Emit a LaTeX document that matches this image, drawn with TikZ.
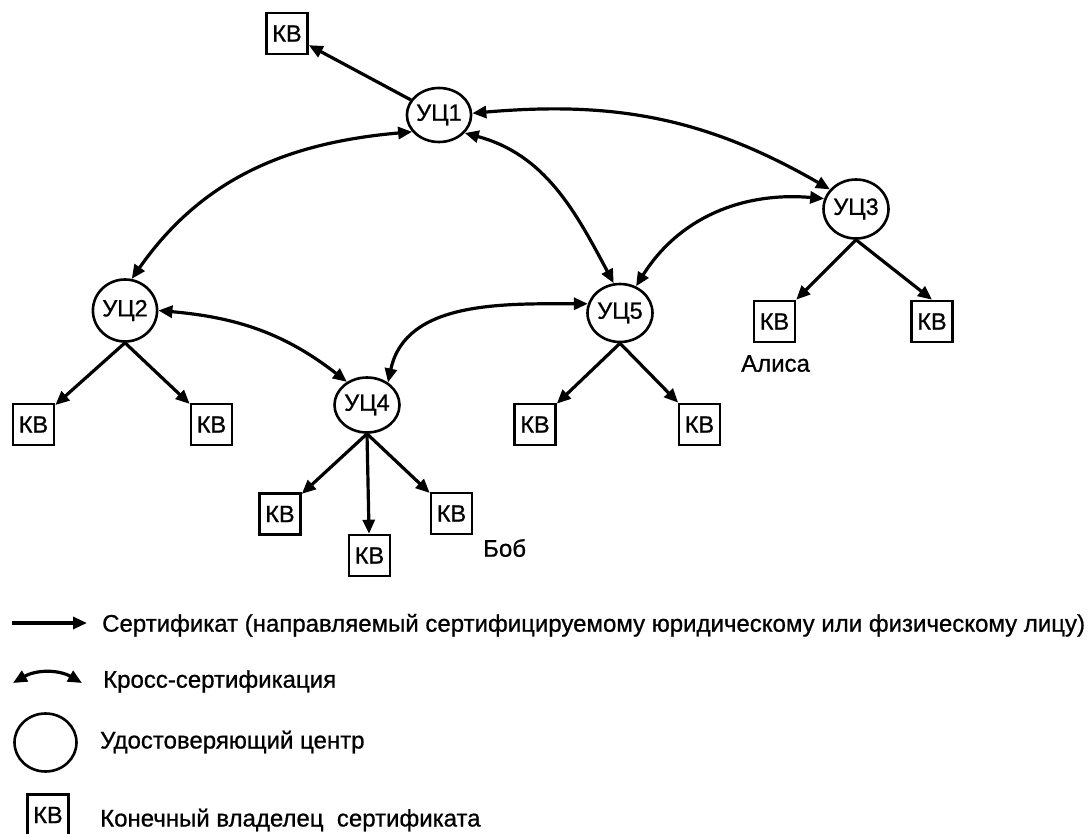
\documentclass[tikz,border=0pt]{standalone}
\usepackage{fontspec}
\setmainfont{Liberation Sans}[FakeBold=0.8]
\usetikzlibrary{arrows.meta,shapes.geometric}
\begin{document}
\begin{tikzpicture}[x=1pt,y=1pt,
  >={Triangle[length=14pt,width=12pt]},
  ca/.style={draw,ellipse,line width=2.6pt,inner sep=0pt,minimum width=64pt,minimum height=57pt,font=\fontsize{23.5}{28}\selectfont},
  kb/.style={draw,rectangle,line width=2.6pt,inner sep=0pt,minimum size=41pt,font=\fontsize{23.5}{28}\selectfont},
  lbl/.style={anchor=base west,inner sep=0pt,font=\fontsize{24}{29}\selectfont},
  cert/.style={line width=3.2pt,->},
  cross/.style={line width=3.2pt,<->}]
\fill[white] (0,0) rectangle (1092,-834);
\useasboundingbox (0,0) rectangle (1092,-834);
% CA nodes
\node[ca,minimum height=54pt] (U1) at (439,-115) {УЦ1};
\node[ca,minimum height=62pt,minimum width=62pt] (U2) at (125,-310.5) {УЦ2};
\node[ca,minimum width=65pt,minimum height=59pt] (U3) at (856,-209) {УЦ3};
\node[ca,minimum width=65pt,minimum height=55pt] (U4) at (367,-405) {УЦ4};
\node[ca,minimum width=65pt,minimum height=58pt] (U5) at (620,-313) {УЦ5};
% end owners
\node[kb] (kb0) at (287,-33.5) {КВ};
\node[kb] (kb21) at (33.5,-424.5) {КВ};
\node[kb] (kb22) at (211.5,-424.5) {КВ};
\node[kb] (kb41) at (280,-514) {КВ};
\node[kb] (kb42) at (369.5,-555.5) {КВ};
\node[kb] (kb43) at (451.5,-513.5) {КВ};
\node[kb] (kb51) at (535,-424.5) {КВ};
\node[kb] (kb52) at (699.5,-424.5) {КВ};
\node[kb] (kb31) at (774.5,-321.5) {КВ};
\node[kb] (kb32) at (932,-321.5) {КВ};
% names
\node[lbl] (alice) at (741,-371.7) {Алиса};
\node[lbl] (bob) at (483,-556.7) {Боб};
% certificates
\draw[cert] (U1) -- (kb0);
\draw[cert] (U2.south) -- (kb21);
\draw[cert] (U2.south) -- (kb22);
\draw[cert] (U4.south) -- (kb41);
\draw[cert] (U4.south) -- (kb42);
\draw[cert] (U4.south) -- (kb43);
\draw[cert] (U5.south) -- (kb51);
\draw[cert] (U5.south) -- (kb52);
\draw[cert] (U3.south) -- (kb31);
\draw[cert] (U3.south) -- (kb32.north);
% cross-certification
\draw[cross] (U1.212) to[out=185,in=55] (U2.78);
\draw[cross] (U1.3) to[out=5,in=150] (U3.143);
\draw[cross] (U1.325) to[out=-15,in=118] (U5.102);
\draw[cross] (U3.162) to[out=175,in=58] (U5.59);
\draw[cross] (U2.0) to[out=-5,in=142] (U4.131);
\draw[cross] (U5.164) to[out=180,in=78] (U4.47);
% legend
\coordinate (la1) at (12,-623);
\coordinate (lb1) at (87,-623);
\draw[cert] (la1) -- (lb1);
\node[lbl] (t1) at (102,-631.7) {Сертификат (направляемый сертифицируемому юридическому или физическому лицу)};
\coordinate (la2) at (13,-683);
\coordinate (lb2) at (82,-683);
\draw[cross] (la2) to[bend left=30] (lb2);
\node[lbl] (t2) at (103,-687.7) {Кросс-сертификация};
\node[ca,minimum width=62pt,minimum height=58pt] (lc) at (45.5,-742.5) {};
\node[lbl] (t3) at (100,-748.5) {Удостоверяющий центр};
\node[kb] (lk) at (48,-815) {КВ};
\node[lbl] (t4) at (100,-826.5) {Конечный владелец\ \ сертификата};
\end{tikzpicture}
\end{document}
